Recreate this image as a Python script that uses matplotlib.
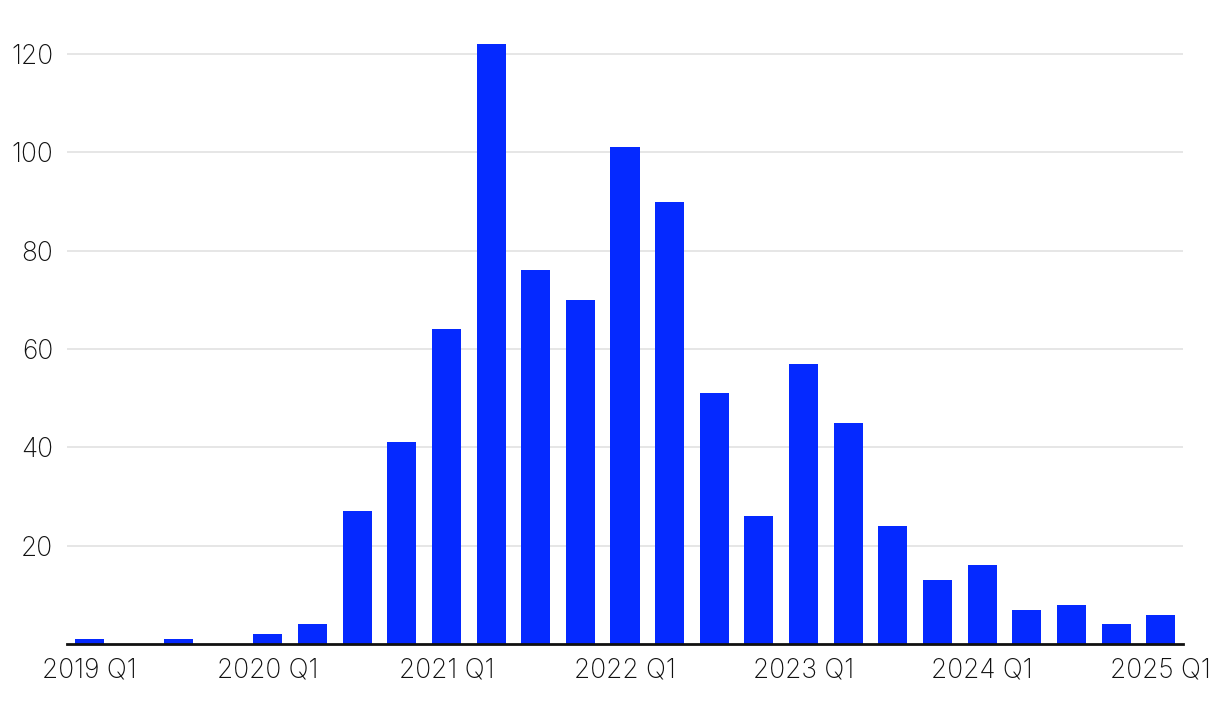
import matplotlib
matplotlib.use("Agg")
import matplotlib.pyplot as plt

quarters = [f"{y} Q{q}" for y in range(2019, 2026) for q in range(1, 5)][:25]
values = [1, 0, 1, 0, 2, 4, 27, 41, 64, 122, 76, 70, 101, 90, 51, 26, 57, 45, 24, 13, 16, 7, 8, 4, 6]
yticks = [20, 40, 60, 80, 100, 120]

plt.rcParams['font.family'] = ['Inter', 'DejaVu Sans']

W, H = 1220, 704
fig = plt.figure(figsize=(W / 100, H / 100), dpi=100)
left, right, bottom = 67, 1183, 644
ymax = 125
pxu = (644 - 54) / 120
top = bottom - ymax * pxu
ax = fig.add_axes([left / W, (H - bottom) / H, (right - left) / W, (bottom - top) / H])

x = list(range(len(values)))
ax.bar(x, values, width=0.65, color='#0529FF', zorder=3)
ax.set_xlim(-0.5, len(values) - 0.5)
ax.set_ylim(0, ymax)

ax.set_yticks(yticks)
ax.set_yticklabels([str(v) for v in yticks])
ax.grid(axis='y', color='#e2e2e2', linewidth=1.2, zorder=0)
ticks = [i for i, q in enumerate(quarters) if q.endswith('Q1')]
ax.set_xticks(ticks)
ax.set_xticklabels([quarters[i] for i in ticks])

for s in ['top', 'right', 'left']:
    ax.spines[s].set_visible(False)
ax.spines['bottom'].set_color('#111111')
ax.spines['bottom'].set_linewidth(2)
ax.spines['bottom'].set_zorder(4)
ax.tick_params(axis='both', length=0, labelsize=19, colors='#111111')
ax.tick_params(axis='y', pad=10)
ax.tick_params(axis='x', pad=10)
for lab in ax.get_xticklabels() + ax.get_yticklabels():
    lab.set_fontweight('light')

fig.savefig('out.png', dpi=100)
